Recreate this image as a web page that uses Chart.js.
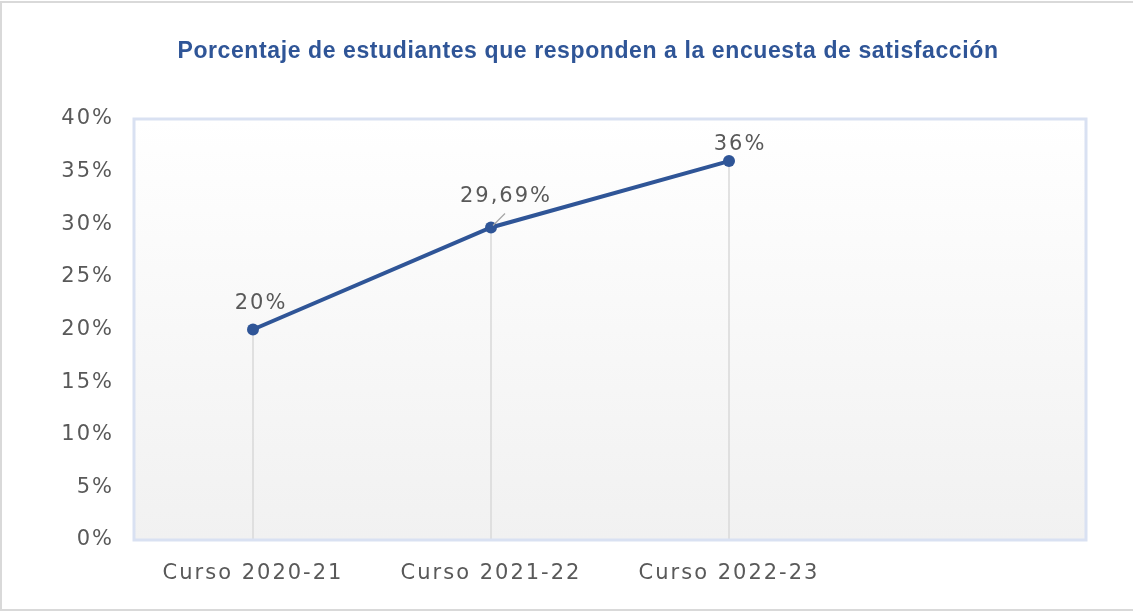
<!DOCTYPE html>
<html><head><meta charset="utf-8">
<script src="https://cdn.jsdelivr.net/npm/chart.js@4.4.1/dist/chart.umd.min.js"></script>
<style>
html,body{margin:0;padding:0;background:#fff;}
#wrap{position:relative;width:1133px;height:613px;}
#wrap:before{content:"";position:absolute;left:0;top:1px;width:1133px;height:610px;border-left:2px solid #d9d9d9;border-top:2px solid #d9d9d9;border-bottom:2px solid #d9d9d9;box-sizing:border-box;pointer-events:none;}
canvas{position:absolute;left:0;top:0;}
</style></head>
<body><div id="wrap"><canvas id="c" width="1133" height="613"></canvas></div>
<script>
const categories = ['Curso 2020-21', 'Curso 2021-22', 'Curso 2022-23', ''];
const values = [20, 29.69, 36, null];
const valueLabels = ['20%', '29,69%', '36%'];
const yTicks = [0, 5, 10, 15, 20, 25, 30, 35, 40];
const titleText = 'Porcentaje de estudiantes que responden a la encuesta de satisfacción';

const TXT = '#595959';
const BLUE = '#2f5597';
const TICKFONT = {family: 'DejaVu Sans', size: 21};

const plotStyle = {
  id: 'plotStyle',
  beforeLayout(chart) { chart.ctx.letterSpacing = '2px'; },
  beforeDraw(chart) { chart.ctx.letterSpacing = '2px'; },
  beforeDatasetsDraw(chart) {
    const {ctx, chartArea: a} = chart;
    ctx.save();
    const g = ctx.createLinearGradient(0, a.top, 0, a.bottom);
    g.addColorStop(0, '#ffffff');
    g.addColorStop(1, '#f1f1f1');
    ctx.fillStyle = g;
    ctx.fillRect(a.left, a.top, a.right - a.left, a.bottom - a.top);
    const meta = chart.getDatasetMeta(0);
    ctx.strokeStyle = '#d9d9d9';
    ctx.lineWidth = 1.5;
    meta.data.forEach((p, i) => {
      if (values[i] == null) return;
      ctx.beginPath();
      ctx.moveTo(p.x, p.y);
      ctx.lineTo(p.x, a.bottom);
      ctx.stroke();
    });
    ctx.strokeStyle = '#d9e1f2';
    ctx.lineWidth = 3;
    ctx.strokeRect(a.left, a.top, a.right - a.left, a.bottom - a.top);
    ctx.restore();
  },
  afterDatasetsDraw(chart) {
    const {ctx} = chart;
    const meta = chart.getDatasetMeta(0);
    const offs = [[8, -26], [15, -31], [11, -17]];
    ctx.save();
    ctx.letterSpacing = '2px';
    ctx.font = '21px "DejaVu Sans"';
    ctx.fillStyle = TXT;
    ctx.textAlign = 'center';
    ctx.textBaseline = 'middle';
    meta.data.forEach((p, i) => {
      if (values[i] == null) return;
      const o = offs[i];
      ctx.fillText(valueLabels[i], p.x + o[0], p.y + o[1]);
    });
    const p = meta.data[1];
    ctx.strokeStyle = '#a6a6a6';
    ctx.lineWidth = 1.2;
    ctx.beginPath();
    ctx.moveTo(p.x + 2, p.y - 2);
    ctx.lineTo(p.x + 14, p.y - 14);
    ctx.stroke();
    ctx.restore();
  },
  afterDraw(chart) {
    const {ctx} = chart;
    ctx.save();
    ctx.letterSpacing = '0.6px';
    ctx.font = 'bold 23px "Liberation Sans"';
    ctx.fillStyle = BLUE;
    ctx.textAlign = 'center';
    ctx.textBaseline = 'middle';
    ctx.fillText(titleText, 588, 52);
    ctx.restore();
  }
};

new Chart(document.getElementById('c'), {
  type: 'line',
  data: {
    labels: categories,
    datasets: [{
      data: values,
      borderColor: BLUE,
      backgroundColor: BLUE,
      borderWidth: 4,
      pointRadius: 6,
      pointBackgroundColor: BLUE,
      pointBorderWidth: 0,
      tension: 0
    }]
  },
  options: {
    responsive: false,
    animation: false,
    layout: {padding: {left: 0, right: 47, top: 119, bottom: 0}},
    plugins: {
      legend: {display: false},
      tooltip: {enabled: false},
      title: {display: false}
    },
    scales: {
      x: {
        offset: true,
        grid: {display: false, drawTicks: false},
        border: {display: false},
        ticks: {color: TXT, font: TICKFONT, padding: 21, maxRotation: 0, autoSkip: false},
        afterFit(s) { s.height = 73; }
      },
      y: {
        min: 0, max: 40,
        grid: {display: false, drawTicks: false},
        border: {display: false},
        afterBuildTicks(s) { s.ticks = yTicks.map(v => ({value: v})); },
        ticks: {color: TXT, font: TICKFONT, padding: 20, callback: v => v + '%'},
        afterFit(s) { s.width = 134; }
      }
    }
  },
  plugins: [plotStyle]
});
</script>
</body></html>
